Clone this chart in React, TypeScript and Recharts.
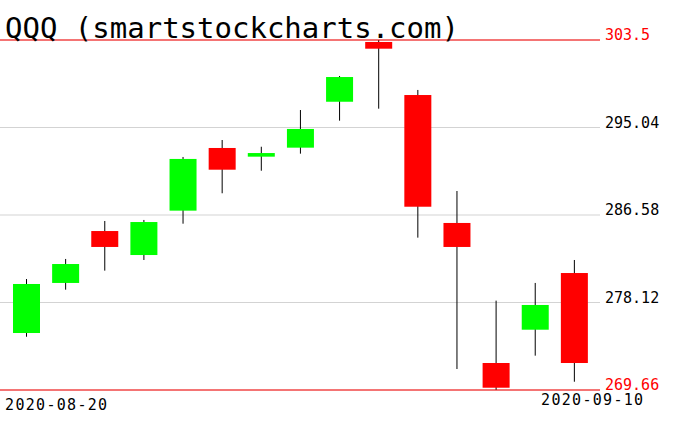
import React from 'react';
import { ComposedChart, Bar, XAxis, YAxis, CartesianGrid, ReferenceLine } from 'recharts';

const dates = ['2020-08-20','2020-08-21','2020-08-24','2020-08-25','2020-08-26','2020-08-27','2020-08-28','2020-08-31','2020-09-01','2020-09-02','2020-09-03','2020-09-04','2020-09-08','2020-09-09','2020-09-10'];
const opens = [275.17, 280.01, 285.03, 282.71, 287.0, 293.06, 292.22, 293.09, 297.53, 303.31, 298.18, 285.81, 272.27, 275.49, 280.97];
const closes = [279.91, 281.84, 283.49, 285.9, 292.0, 290.96, 292.57, 294.9, 299.92, 302.66, 287.38, 283.49, 269.88, 277.88, 272.27];
const highs = [280.39, 282.33, 286.0, 286.1, 292.19, 293.83, 293.18, 296.73, 300.02, 303.5, 298.67, 288.9, 278.3, 280.01, 282.23];
const lows = [274.81, 279.36, 281.2, 282.23, 285.74, 288.68, 290.86, 292.51, 295.7, 296.86, 284.39, 271.69, 269.66, 272.98, 270.46];
const yTicks = [269.66, 278.12, 286.58, 295.04, 303.5];
const xLabels = ['2020-08-20', '2020-09-10'];
const title = 'QQQ (smartstockcharts.com)';

const data = dates.map((d, i) => ({
  date: d,
  open: opens[i],
  close: closes[i],
  high: highs[i],
  low: lows[i],
  range: [lows[i], highs[i]],
}));

const yMin = yTicks[0];
const yMax = yTicks[yTicks.length - 1];

const Candle = (props: any) => {
  const { x, y, width, height, payload } = props;
  const h = Math.abs(height);
  const top = height >= 0 ? y : y + height;
  const span = payload.high - payload.low;
  const k = span > 0 ? h / span : 0;
  const bodyTop = top + (payload.high - Math.max(payload.open, payload.close)) * k;
  const bodyBot = top + (payload.high - Math.min(payload.open, payload.close)) * k;
  const cx = x + width / 2;
  const up = payload.close >= payload.open;
  return (
    <g>
      <line x1={cx} x2={cx} y1={top} y2={top + h} stroke="#000" strokeWidth={1} />
      <rect x={x} y={bodyTop} width={width} height={Math.max(bodyBot - bodyTop, 1)} fill={up ? '#00ff00' : '#ff0000'} />
    </g>
  );
};

const YTick = (props: any) => {
  const { x, y, payload } = props;
  const red = payload.value === yMin || payload.value === yMax;
  return (
    <text x={x - 6} y={y} textAnchor="start" fontFamily="DejaVu Sans Mono" fontSize={15} fill={red ? '#ff0000' : '#000'}>
      {String(payload.value)}
    </text>
  );
};

const XTick = (props: any) => {
  const { x, y, payload } = props;
  const first = payload.value === dates[0];
  return (
    <text
      x={first ? x - 21.5 : x + 70}
      y={first ? y + 12 : y + 7}
      textAnchor={first ? 'start' : 'end'}
      fontFamily="DejaVu Sans Mono"
      fontSize={15}
      letterSpacing={1.3}
      fill="#000"
    >
      {payload.value}
    </text>
  );
};

export default function App() {
  return (
    <div style={{ position: 'absolute', left: 0, top: 0, width: 676, height: 431, background: '#fff' }}>
      <ComposedChart width={676} height={431} data={data} margin={{ top: 40, right: 0, left: 0, bottom: 0 }}>
        <CartesianGrid horizontal vertical={false} stroke="#d3d3d3" strokeDasharray="" />
        <XAxis
          dataKey="date"
          type="category"
          ticks={xLabels}
          interval={0}
          axisLine={false}
          tickLine={false}
          height={41}
          padding={{ left: 7, right: 6 }}
          tick={<XTick />}
        />
        <YAxis
          orientation="right"
          domain={[yMin, yMax]}
          ticks={yTicks}
          allowDataOverflow
          axisLine={false}
          tickLine={false}
          width={76}
          tickMargin={5}
          tick={<YTick />}
        />
        <ReferenceLine y={yMax} stroke="#ff0000" strokeWidth={1} ifOverflow="extendDomain" />
        <ReferenceLine y={yMin} stroke="#ff0000" strokeWidth={1} ifOverflow="extendDomain" />
        <Bar dataKey="range" barSize={27} shape={<Candle />} isAnimationActive={false} />
      </ComposedChart>
      <svg width={676} height={60} style={{ position: 'absolute', left: 0, top: 0 }}>
        <text x={5} y={38} fontFamily="DejaVu Sans Mono" fontSize={29} fill="#000">{title}</text>
      </svg>
    </div>
  );
}
